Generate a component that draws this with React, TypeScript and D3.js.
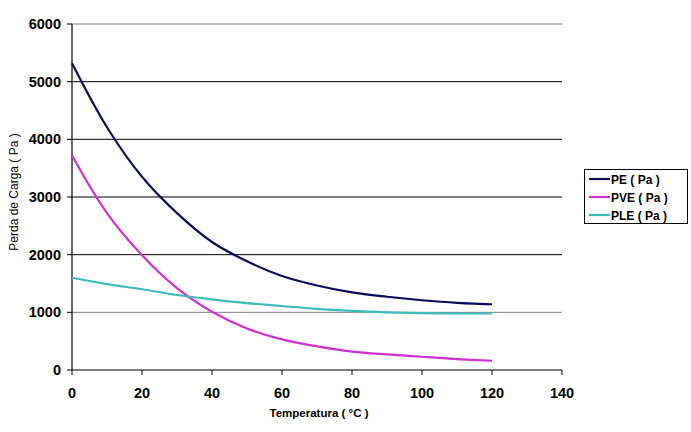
import React from 'react';
import * as d3 from 'd3';

// ─── data ───
const temps = [0, 10, 20, 30, 40, 50, 60, 70, 80, 90, 100, 110, 120];
const pe = [5320, 4210, 3350, 2720, 2220, 1885, 1630, 1465, 1345, 1270, 1210, 1165, 1140];
const pve = [3720, 2720, 1990, 1420, 1010, 720, 530, 410, 320, 270, 230, 190, 160];
const ple = [1600, 1490, 1400, 1300, 1225, 1160, 1110, 1060, 1025, 1000, 985, 980, 980];

const xTicks = [0, 20, 40, 60, 80, 100, 120, 140];
const yTicks = [0, 1000, 2000, 3000, 4000, 5000, 6000];

const series = [
  { name: 'PE ( Pa )', values: pe, color: '#0c0c5e' },
  { name: 'PVE ( Pa )', values: pve, color: '#d030d0' },
  { name: 'PLE ( Pa )', values: ple, color: '#3cbcbc' },
];

const W = 691;
const H = 432;
const plot = { left: 72, right: 562, top: 24, bottom: 370 };
const font = '"Liberation Sans", Arial, sans-serif';

export default function App() {
  const x = d3.scaleLinear().domain([0, 140]).range([plot.left, plot.right]);
  const y = d3.scaleLinear().domain([0, 6000]).range([plot.bottom, plot.top]);

  const line = d3.line<number>()
    .x((_, i) => x(temps[i]))
    .y(d => y(d))
    .curve(d3.curveCatmullRom.alpha(0.5));

  return (
    <svg width={W} height={H} style={{ position: 'absolute', left: 0, top: 0, background: '#fff' }}
      fontFamily={font}>
      {/* grid lines */}
      {yTicks.filter(t => t > 0).map(t => (
        <line key={t} x1={plot.left} x2={plot.right} y1={y(t)} y2={y(t)}
          stroke={t === 1000 || t === 6000 ? '#808080' : '#000'} strokeWidth={1} />
      ))}

      {/* y axis */}
      <line x1={plot.left} x2={plot.left} y1={plot.top} y2={plot.bottom} stroke="#000" strokeWidth={1.2} />
      {yTicks.map(t => (
        <g key={t}>
          <line x1={plot.left - 5} x2={plot.left} y1={y(t)} y2={y(t)} stroke="#000" />
          <text x={61} y={y(t) + 5} textAnchor="end" fontSize={14.5} fontWeight="bold">{t}</text>
        </g>
      ))}

      {/* x axis */}
      <line x1={plot.left} x2={plot.right} y1={plot.bottom} y2={plot.bottom} stroke="#000" strokeWidth={1.2} />
      {xTicks.map(t => (
        <g key={t}>
          <line x1={x(t)} x2={x(t)} y1={plot.bottom} y2={plot.bottom + 5} stroke="#000" />
          <text x={x(t)} y={398} textAnchor="middle" fontSize={14.5} fontWeight="bold">{t}</text>
        </g>
      ))}

      {/* series */}
      {series.map(s => (
        <path key={s.name} d={line(s.values) ?? ''} fill="none" stroke={s.color} strokeWidth={2.2} />
      ))}

      {/* axis titles */}
      <text x={319} y={417} textAnchor="middle" fontSize={11.5} fontWeight="bold">Temperatura ( °C )</text>
      <text transform={`translate(18,192) rotate(-90)`} textAnchor="middle" fontSize={12}>
        Perda de Carga ( Pa )
      </text>

      {/* legend */}
      <rect x={584.5} y={169.5} width={103} height={54} fill="#fff" stroke="#000" strokeWidth={1} />
      {series.map((s, i) => (
        <g key={s.name}>
          <line x1={589} x2={610} y1={179 + i * 18} y2={179 + i * 18} stroke={s.color} strokeWidth={2.2} />
          <text x={611} y={183.5 + i * 18} fontSize={12} fontWeight="bold">{s.name}</text>
        </g>
      ))}
    </svg>
  );
}
